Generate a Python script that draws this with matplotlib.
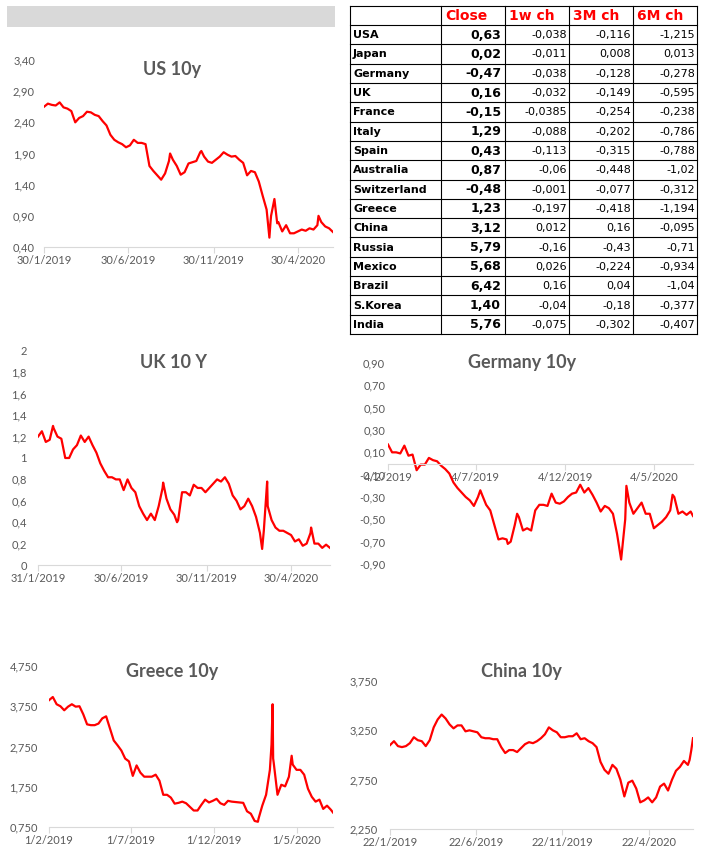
import numpy as np
import pandas as pd
import matplotlib
matplotlib.use('Agg')
from matplotlib import pyplot as plt
from matplotlib.patches import Rectangle
from matplotlib.ticker import FuncFormatter

plt.rcParams['font.family'] = ['Lato', 'DejaVu Sans']

W, H = 709, 866

# ---- table data
countries = ['USA', 'Japan', 'Germany', 'UK', 'France', 'Italy', 'Spain', 'Australia',
             'Switzerland', 'Greece', 'China', 'Russia', 'Mexico', 'Brazil', 'S.Korea', 'India']
close = [0.63, 0.02, -0.47, 0.16, -0.15, 1.29, 0.43, 0.87, -0.48, 1.23, 3.12, 5.79, 5.68, 6.42, 1.40, 5.76]
ch_1w = [-0.038, -0.011, -0.038, -0.032, -0.0385, -0.088, -0.113, -0.06, -0.001, -0.197,
         0.012, -0.16, 0.026, 0.16, -0.04, -0.075]
ch_3m = [-0.116, 0.008, -0.128, -0.149, -0.254, -0.202, -0.315, -0.448, -0.077, -0.418,
         0.16, -0.43, -0.224, 0.04, -0.18, -0.302]
ch_6m = [-1.215, 0.013, -0.278, -0.595, -0.238, -0.786, -0.788, -1.02, -0.312, -1.194,
         -0.095, -0.71, -0.934, -1.04, -0.377, -0.407]
headers = ['Close', '1w ch', '3M ch', '6M ch']

# ---- yield series (weekly readings + extra points at spikes)
us_start = '2019-01-30'
us_weekly = [2.65, 2.70, 2.68, 2.67, 2.72, 2.64, 2.62, 2.58, 2.40, 2.47,
             2.50, 2.57, 2.56, 2.52, 2.50, 2.42, 2.35, 2.20, 2.12, 2.08,
             2.05, 2.00, 2.03, 2.12, 2.07, 2.07, 2.05, 1.70, 1.62, 1.55,
             1.48, 1.58, 1.78, 1.80, 1.70, 1.56, 1.60, 1.74, 1.76, 1.78,
             1.92, 1.85, 1.77, 1.75, 1.80, 1.85, 1.92, 1.88, 1.85, 1.86,
             1.80, 1.75, 1.55, 1.62, 1.60, 1.45, 1.22, 1.00, 0.80, 1.17,
             0.80, 0.65, 0.75, 0.62, 0.62, 0.65, 0.68, 0.66, 0.70, 0.68,
             0.75, 0.80, 0.73, 0.70, 0.64]
us_extra_d = ['2019-09-13', '2019-11-08', '2020-03-09', '2020-03-12', '2020-03-23', '2020-06-05']
us_extra_v = [1.90, 1.94, 0.55, 0.90, 0.78, 0.90]
us_ticks = ['2019-01-30', '2019-06-30', '2019-11-30', '2020-04-30']

uk_start = '2019-01-31'
uk_weekly = [1.20, 1.25, 1.15, 1.17, 1.28, 1.20, 1.18, 1.00, 1.00, 1.08,
             1.12, 1.21, 1.15, 1.20, 1.12, 1.05, 0.95, 0.88, 0.82, 0.82,
             0.80, 0.80, 0.70, 0.80, 0.72, 0.68, 0.55, 0.48, 0.42, 0.48,
             0.42, 0.55, 0.72, 0.62, 0.52, 0.47, 0.42, 0.68, 0.68, 0.65,
             0.75, 0.72, 0.72, 0.68, 0.72, 0.76, 0.80, 0.78, 0.82, 0.76,
             0.65, 0.60, 0.52, 0.55, 0.62, 0.55, 0.45, 0.30, 0.32, 0.55,
             0.42, 0.35, 0.32, 0.32, 0.30, 0.28, 0.22, 0.24, 0.18, 0.20,
             0.30, 0.20, 0.20, 0.16, 0.19, 0.16]
uk_extra_d = ['2019-02-27', '2019-09-13', '2019-10-08', '2020-03-09', '2020-03-18', '2020-06-05']
uk_extra_v = [1.30, 0.77, 0.40, 0.15, 0.78, 0.35]
uk_ticks = ['2019-01-31', '2019-06-30', '2019-11-30', '2020-04-30']

de_start = '2019-02-04'
de_weekly = [0.17, 0.10, 0.10, 0.09, 0.16, 0.07, 0.08, -0.06, -0.01, -0.01,
             0.05, 0.03, 0.02, -0.02, -0.05, -0.09, -0.17, -0.22, -0.26, -0.30,
             -0.33, -0.38, -0.30, -0.28, -0.37, -0.42, -0.55, -0.68, -0.67, -0.68,
             -0.70, -0.55, -0.48, -0.60, -0.58, -0.60, -0.42, -0.37, -0.37, -0.38,
             -0.27, -0.35, -0.36, -0.34, -0.30, -0.27, -0.26, -0.19, -0.26, -0.22,
             -0.28, -0.35, -0.43, -0.38, -0.40, -0.45, -0.63, -0.86, -0.50, -0.35,
             -0.45, -0.40, -0.35, -0.45, -0.45, -0.58, -0.55, -0.52, -0.48, -0.42,
             -0.30, -0.45, -0.43, -0.46, -0.43]
de_extra_d = ['2019-07-12', '2019-08-28', '2019-09-13', '2020-03-18', '2020-06-05', '2020-07-10']
de_extra_v = [-0.24, -0.72, -0.45, -0.20, -0.28, -0.47]
de_ticks = ['2019-02-04', '2019-07-04', '2019-12-04', '2020-05-04']

gr_start = '2019-02-01'
gr_weekly = [3.90, 3.98, 3.80, 3.75, 3.65, 3.74, 3.80, 3.74, 3.75, 3.55,
             3.30, 3.28, 3.28, 3.32, 3.45, 3.50, 3.20, 2.90, 2.78, 2.65,
             2.45, 2.38, 2.02, 2.28, 2.10, 2.00, 2.00, 2.00, 2.05, 1.90,
             1.55, 1.55, 1.48, 1.33, 1.35, 1.38, 1.34, 1.25, 1.16, 1.16,
             1.30, 1.43, 1.36, 1.40, 1.45, 1.34, 1.30, 1.40, 1.38, 1.37,
             1.36, 1.35, 1.14, 1.08, 0.90, 0.95, 1.28, 1.55, 2.17, 2.35,
             1.55, 1.80, 1.76, 2.00, 2.30, 2.17, 2.17, 2.05, 1.70, 1.50,
             1.38, 1.43, 1.20, 1.28, 1.18]
gr_extra_d = ['2020-02-20', '2020-03-16', '2020-03-17', '2020-03-18', '2020-03-19', '2020-04-22', '2020-07-07']
gr_extra_v = [0.88, 2.80, 3.30, 3.80, 2.45, 2.52, 1.11]
gr_ticks = ['2019-02-01', '2019-07-01', '2019-12-01', '2020-05-01']

cn_start = '2019-01-22'
cn_weekly = [3.10, 3.14, 3.09, 3.08, 3.09, 3.12, 3.18, 3.15, 3.14, 3.09,
             3.15, 3.28, 3.36, 3.41, 3.37, 3.31, 3.27, 3.30, 3.30, 3.24,
             3.25, 3.24, 3.23, 3.18, 3.17, 3.17, 3.16, 3.16, 3.08, 3.02,
             3.05, 3.05, 3.03, 3.07, 3.11, 3.13, 3.12, 3.14, 3.17, 3.21,
             3.28, 3.25, 3.23, 3.18, 3.18, 3.19, 3.19, 3.22, 3.16, 3.17,
             3.14, 3.12, 3.08, 2.93, 2.85, 2.81, 2.90, 2.86, 2.75, 2.58,
             2.72, 2.74, 2.66, 2.52, 2.54, 2.57, 2.52, 2.57, 2.68, 2.71,
             2.64, 2.75, 2.84, 2.88, 2.94, 2.90]
cn_extra_d = ['2020-07-03', '2020-07-06', '2020-07-09']
cn_extra_v = [2.95, 3.05, 3.17]
cn_ticks = ['2019-01-22', '2019-06-22', '2019-11-22', '2020-04-22']


def series(start, weekly, extra_d, extra_v):
    d = list(pd.date_range(start, periods=len(weekly), freq='7D')) + list(pd.to_datetime(extra_d))
    v = list(weekly) + list(extra_v)
    return pd.Series(v, index=d).sort_index()


fig = plt.figure(figsize=(W / 100, H / 100), dpi=100)
fig.patch.set_facecolor('white')

grey = '#595959'


def chart(box, s, ticks, yticks, yfmt, ypad, title, txy, cross0=False):
    x0, x1, yt, yb = box
    ax = fig.add_axes([x0 / W, 1 - yb / H, (x1 - x0) / W, (yb - yt) / H])
    ax.patch.set_alpha(0)
    ax.plot(s.index, s.values, color='#ff0000', lw=1.6, solid_joinstyle='round')
    ax.set_xlim(s.index[0], s.index[-1])
    ax.set_ylim(yticks[0], yticks[-1])
    ax.set_yticks(yticks)
    ax.yaxis.set_major_formatter(FuncFormatter(lambda v, p: yfmt(v)))
    tk = pd.to_datetime(ticks)
    ax.set_xticks(tk)
    ax.set_xticklabels([f'{d.day}/{d.month}/{d.year}' for d in tk])
    for sp in ['top', 'right', 'left']:
        ax.spines[sp].set_visible(False)
    ax.spines['bottom'].set_color('#d9d9d9')
    ax.spines['bottom'].set_linewidth(0.8)
    if cross0:
        ax.spines['bottom'].set_position(('data', 0))
    ax.tick_params(axis='y', length=0, labelsize=8, labelcolor=grey, pad=ypad)
    ax.tick_params(axis='x', length=4, width=0.8, color='#d9d9d9', labelsize=8,
                   labelcolor=grey, pad=2)
    fig.text(txy[0] / W, 1 - txy[1] / H, title, ha='center', va='center',
             fontsize=13, fontweight='bold', color=grey)
    return ax


def f2(v):
    return f'{v:.2f}'.replace('.', ',')


def f3(v):
    return f'{v:.3f}'.replace('.', ',')


def fg(v):
    return f'{round(v, 1):g}'.replace('.', ',')


chart((44, 333, 60, 247), series(us_start, us_weekly, us_extra_d, us_extra_v), us_ticks,
      np.arange(0.4, 3.41, 0.5), f2, 6.5, 'US 10y', (172, 70))
chart((38, 330, 351, 565), series(uk_start, uk_weekly, uk_extra_d, uk_extra_v), uk_ticks,
      np.arange(0, 2.01, 0.2), fg, 8, 'UK 10 Y', (173, 363))
chart((388, 693, 363, 564), series(de_start, de_weekly, de_extra_d, de_extra_v), de_ticks,
      np.arange(-0.9, 0.91, 0.2), f2, 2, 'Germany 10y', (522, 363), cross0=True)
chart((49, 333, 666, 827), series(gr_start, gr_weekly, gr_extra_d, gr_extra_v), gr_ticks,
      np.arange(0.75, 4.76, 1.0), f3, 8, 'Greece 10y', (172, 671))
chart((390, 693, 681, 829), series(cn_start, cn_weekly, cn_extra_d, cn_extra_v), cn_ticks,
      np.arange(2.25, 3.76, 0.5), f3, 8.5, 'China 10y', (521, 671))

# ---- overlay in pixel coordinates: grey bar + table
ov = fig.add_axes([0, 0, 1, 1])
ov.set_xlim(0, W)
ov.set_ylim(H, 0)
ov.axis('off')
ov.add_patch(Rectangle((7, 6), 328, 21, fc='#d9d9d9', ec='none'))

cols = [350, 441, 505, 569, 633, 697]
rows = [6] + list(np.linspace(25, 334, len(countries) + 1))
for x in cols:
    ov.plot([x, x], [rows[0], rows[-1]], color='black', lw=0.8)
for y in rows:
    ov.plot([cols[0], cols[-1]], [y, y], color='black', lw=0.8)

tf = 'DejaVu Sans'
hy = (rows[0] + rows[1]) / 2
for j, h in enumerate(headers):
    ov.text(cols[j + 1] + 4, hy + 0.5, h, ha='left', va='center', color='#ff0000',
            fontsize=10, fontweight='bold', family=tf)
for i, c in enumerate(countries):
    y = (rows[i + 1] + rows[i + 2]) / 2 + 0.5
    ov.text(cols[0] + 3, y, c, ha='left', va='center', fontsize=8, fontweight='bold', family=tf)
    ov.text(cols[2] - 4, y, f2(close[i]), ha='right', va='center', fontsize=9,
            fontweight='bold', family=tf)
    for j, arr in enumerate([ch_1w, ch_3m, ch_6m]):
        ov.text(cols[j + 3] - 2, y, f'{arr[i]:g}'.replace('.', ','), ha='right', va='center',
                fontsize=8, family=tf)

fig.savefig('out.png', dpi=100, facecolor='white')
